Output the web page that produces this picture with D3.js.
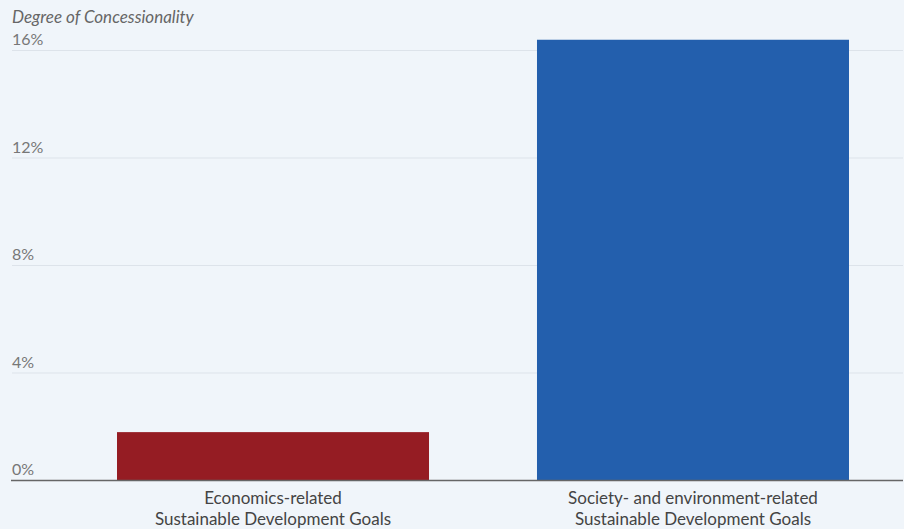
<!DOCTYPE html>
<html><head><meta charset="utf-8">
<script src="https://cdn.jsdelivr.net/npm/d3@7"></script>
<style>
html,body{margin:0;padding:0;background:#f0f5fa;}
svg{display:block;}
text{font-family:Lato,"Noto Sans",sans-serif;}
</style></head>
<body>
<svg id="chart" width="904" height="529"></svg>
<script>
const categories = [["Economics-related","Sustainable Development Goals"],["Society- and environment-related","Sustainable Development Goals"]];
const categoryKeys = ["econ","soc"];
const values = [1.8, 16.4];
const colors = ["#951c23","#235fad"];
const yTicks = [0,4,8,12,16];
const yTickLabels = ["0%","4%","8%","12%","16%"];
const yTitle = "Degree of Concessionality";

const svg = d3.select("#chart");
svg.append("rect").attr("width",904).attr("height",529).attr("fill","#f0f5fa");

const x = d3.scaleBand().domain(categoryKeys).range([63,903]).paddingInner(0.2571).paddingOuter(0.1286);
const y = d3.scaleLinear().domain([0,16]).range([480.5,50.5]);

const g = svg.append("g");
g.selectAll("line.grid").data(yTicks.filter(d=>d>0)).enter().append("line")
  .attr("x1",12).attr("x2",903).attr("y1",d=>y(d)).attr("y2",d=>y(d))
  .attr("stroke","#dde3ea").attr("stroke-width",1);

g.selectAll("text.tick").data(yTicks).enter().append("text")
  .attr("x",12).attr("y",d=>y(d)-5.5)
  .attr("font-size",16).attr("fill","#777")
  .text((d,i)=>yTickLabels[i]);

svg.selectAll("rect.bar").data(values).enter().append("rect")
  .attr("x",(d,i)=>x(categoryKeys[i]))
  .attr("width",x.bandwidth())
  .attr("y",d=>y(d))
  .attr("height",d=>y(0)-y(d))
  .attr("fill",(d,i)=>colors[i]);

svg.append("line").attr("x1",11).attr("x2",903).attr("y1",y(0)).attr("y2",y(0))
  .attr("stroke","#666").attr("stroke-width",1.5);

categories.forEach((lines,i)=>{
  const t = svg.append("text").attr("text-anchor","middle")
    .attr("font-size",17).attr("fill","#444");
  lines.forEach((l,j)=>{
    t.append("tspan").attr("x",x(categoryKeys[i])+x.bandwidth()/2).attr("y",503.5+j*21).text(l);
  });
});

svg.append("text").attr("x",12).attr("y",23).attr("font-size",17).attr("font-style","italic")
  .attr("fill","#666").text(yTitle);
</script>
</body></html>
